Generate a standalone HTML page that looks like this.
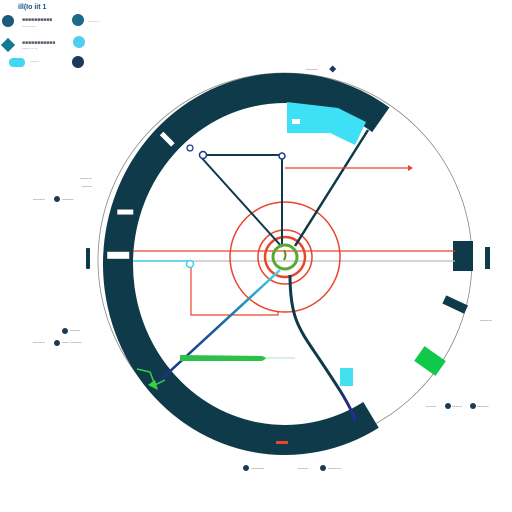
<!DOCTYPE html>
<html><head><meta charset="utf-8">
<style>
html,body{margin:0;padding:0;background:#fff;width:512px;height:512px;overflow:hidden}
svg{display:block}
text{font-family:"Liberation Sans",sans-serif;font-size:5px;fill:#556}
</style></head>
<body>
<svg id="chart" width="512" height="512" viewBox="0 0 512 512">
<defs>
<linearGradient id="g1" x1="280" y1="270" x2="155" y2="385" gradientUnits="userSpaceOnUse">
<stop offset="0" stop-color="#3fd8e8"/><stop offset="0.5" stop-color="#1a5d9a"/><stop offset="1" stop-color="#1a2a80"/></linearGradient>
<linearGradient id="g2" x1="290" y1="275" x2="355" y2="420" gradientUnits="userSpaceOnUse">
<stop offset="0" stop-color="#0e3a4a"/><stop offset="0.7" stop-color="#0e3a4a"/><stop offset="1" stop-color="#2a2aa0"/></linearGradient>
</defs>
<g id="ring"></g>
<g>
<text x="18" y="9" style="font-size:7px;fill:#1a4f7a;font-weight:bold">ill(Io iit 1</text>
<circle cx="8" cy="21" r="6" fill="#1b5a7a"/><text x="22" y="21">■■■■■■■■■■</text><text x="22" y="27" style="font-size:3px">--------------</text>
<rect x="3" y="40" width="10" height="10" fill="#117a90" transform="rotate(45 8 45)"/><text x="22" y="44">■■■■■■■■■■■</text><text x="22" y="49" style="font-size:4px">------ -- --</text>
<rect x="9" y="58" width="16" height="9" rx="4" fill="#40d8f0"/><text x="30" y="62" style="font-size:3px">---------</text>
<circle cx="78" cy="20" r="6" fill="#1e6a8a"/><text x="88" y="22" style="font-size:3px">--------- --</text>
<circle cx="79" cy="42" r="6" fill="#4dd0f0"/>
<circle cx="78" cy="62" r="6" fill="#1a3a5a"/>
</g>
<g>
<text x="306" y="71">-------</text><rect x="330" y="66" width="5" height="5" fill="#1a3a5a" transform="rotate(45 332 69)"/>
<text x="80" y="180">-------</text><text x="82" y="188">------</text>
<text x="33" y="201">-------</text><circle cx="57" cy="199" r="3" fill="#1a3a5a"/><text x="62" y="201">-------</text>
<text x="70" y="332">------</text><circle cx="65" cy="331" r="3" fill="#1a3a5a"/>
<text x="33" y="344">-------</text><circle cx="57" cy="343" r="3" fill="#1a3a5a"/><text x="62" y="344">----  -------</text>
<text x="480" y="322">-------</text>
<text x="426" y="408">------</text><circle cx="448" cy="406" r="3" fill="#1a3a5a"/><text x="452" y="408">------</text><circle cx="473" cy="406" r="3" fill="#1a3a5a"/><text x="477" y="408">-------</text>
<circle cx="246" cy="468" r="3" fill="#1a3a5a"/><text x="251" y="470">--------</text>
<text x="298" y="470">------</text><circle cx="323" cy="468" r="3" fill="#1a3a5a"/><text x="328" y="470">--------</text>
</g>
<g>
<polygon points="287,102 338,108 366,122 355,145 330,133 287,133" fill="#3ee0f5"/>
<rect x="292" y="119" width="8" height="5" fill="#fff"/>
<rect x="453" y="241" width="20" height="30" fill="#0e3a4a"/>
<rect x="485" y="247" width="5" height="22" fill="#0e3a4a"/>
<rect x="86" y="248" width="4" height="21" rx="1" fill="#0e3a4a"/>
<rect x="443" y="300" width="24" height="9" fill="#0e3a4a" transform="rotate(25 455 305)"/>
<rect x="417" y="352" width="26" height="18" fill="#10c84a" transform="rotate(35 430 361)"/>
<rect x="340" y="368" width="13" height="18" fill="#44e0f0"/>
<line x1="133" y1="251" x2="455" y2="251" stroke="#e8452e" stroke-width="1.2"/>
<line x1="133" y1="261" x2="455" y2="261" stroke="#bbb" stroke-width="1.2"/>
<line x1="133" y1="261" x2="190" y2="261" stroke="#3fd0e8" stroke-width="1.5"/>
<circle cx="190" cy="264" r="3.5" fill="#fff" stroke="#3fd0e8" stroke-width="1.5"/>
<path d="M191,268 V315 H278 V312" fill="none" stroke="#e8452e" stroke-width="1.2"/>
<g id="rings"></g>
<path d="M200,156 L282,247 M203,155 H282 V245" fill="none" stroke="#0e3a4a" stroke-width="2"/>
<circle cx="203" cy="155" r="3.5" fill="#fff" stroke="#1a3a8a" stroke-width="1.5"/>
<circle cx="190" cy="148" r="3" fill="none" stroke="#1a3a8a" stroke-width="1.3"/>
<circle cx="282" cy="156" r="3" fill="#fff" stroke="#1a3a8a" stroke-width="1.5"/>
<line x1="295" y1="246" x2="368" y2="130" stroke="#0e3a4a" stroke-width="2.5"/>
<path d="M285,168 H408" stroke="#e8452e" stroke-width="1.2"/><polygon points="408,165 413,168 408,171" fill="#e8452e"/>
<line x1="280" y1="270" x2="155" y2="385" stroke="url(#g1)" stroke-width="2.5"/>
<path d="M290,275 C290,320 300,330 320,360 C340,390 350,405 355,420" fill="none" stroke="url(#g2)" stroke-width="3"/>
<polygon points="180,355 262,356 267,358 262,361 180,361" fill="#2ec04a"/>
<line x1="265" y1="358" x2="295" y2="358" stroke="#a8e6b8" stroke-width="1"/>
<path d="M137,369 L150,372 L155,385 L165,380" fill="none" stroke="#3ad040" stroke-width="1.5"/>
<path d="M148,385 L158,390 L155,380 Z" fill="#3ad040"/>
<circle cx="285" cy="257" r="12" fill="none" stroke="#5aa830" stroke-width="3"/>
<path d="M284,250 q3,5 0,10" fill="none" stroke="#6a8a1a" stroke-width="2"/>
<rect x="276" y="441" width="12" height="3" fill="#e8452e"/>
</g>
</svg>
<script>
const cx=285, cy=264, rx=182, ry=191;
const ringWidth=30;
const arcStartDeg=-55, arcEndDeg=59;
const redRadii=[55,27,20];
const notchAngles=[183,197,225];
const NS="http://www.w3.org/2000/svg";
function pt(a,r1,r2){const t=a*Math.PI/180;return [cx+r1*Math.cos(t),cy+r2*Math.sin(t)];}
const ring=document.getElementById('ring');
const gc=document.createElementNS(NS,'ellipse');


gc.setAttribute('cx',cx);gc.setAttribute('cy',cy-4);gc.setAttribute('rx',rx+5);gc.setAttribute('ry',ry-4);
gc.setAttribute('fill','none');gc.setAttribute('stroke','#888');gc.setAttribute('stroke-width','0.8');
ring.appendChild(gc);
const ro=[rx,ry], ri=[rx-ringWidth,ry-ringWidth];
const a=pt(arcStartDeg,ro[0],ro[1]), b=pt(arcEndDeg,ro[0],ro[1]), c=pt(arcEndDeg,ri[0],ri[1]), d=pt(arcStartDeg,ri[0],ri[1]);
const arc=document.createElementNS(NS,'path');


arc.setAttribute('d',`M${a} A${ro[0]},${ro[1]} 0 1 0 ${b} L${c} A${ri[0]},${ri[1]} 0 1 1 ${d} Z`);
arc.setAttribute('fill','#0e3a4a');
ring.appendChild(arc);
notchAngles.forEach((ang,i)=>{
  const p=pt(ang,rx-ringWidth/2,ry-ringWidth/2);
  const r=document.createElementNS(NS,'rect');
  
  
  const w=i==0?22:16;
  r.setAttribute('x',p[0]-w/2);r.setAttribute('y',p[1]-3);r.setAttribute('width',w);r.setAttribute('height',i==0?7:5);
  r.setAttribute('fill','#fff');
  if(i==2) r.setAttribute('transform',`rotate(${ang-180} ${p[0]} ${p[1]})`);
  ring.appendChild(r);
});
const rings=document.getElementById('rings');
redRadii.forEach((r,i)=>{
  const c=document.createElementNS(NS,'circle');
  
  
  c.setAttribute('cx',285);c.setAttribute('cy',257);c.setAttribute('r',r);
  c.setAttribute('fill','none');c.setAttribute('stroke','#e8452e');c.setAttribute('stroke-width',i==2?2.5:1.5);
  rings.appendChild(c);
});
</script>
</body></html>
